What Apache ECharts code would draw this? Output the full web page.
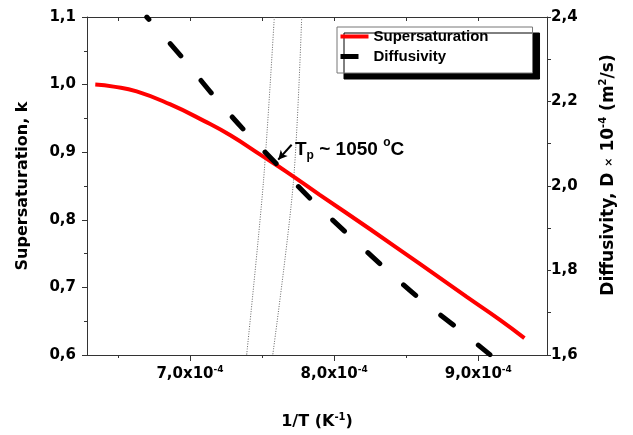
<!DOCTYPE html>
<html><head><meta charset="utf-8">
<script src="https://cdn.jsdelivr.net/npm/echarts@6/dist/echarts.min.js"></script>
<style>html,body{margin:0;padding:0;background:#fff}#c{width:633px;height:435px}</style>
</head><body><div id="c"></div>
<script>
// x values in units of 1e-4 K^-1
const superX = [6.343, 6.47, 6.63, 6.86, 7.10, 7.28, 7.49, 7.67, 7.90, 8.25, 8.60, 8.92, 9.15, 9.32];
const superY = [1.000, 0.997, 0.990, 0.971, 0.946, 0.925, 0.896, 0.871, 0.837, 0.786, 0.734, 0.686, 0.652, 0.625];
const diffX = [6.70, 6.951, 7.153, 7.373, 7.604, 7.844, 8.098, 8.341, 8.584, 8.838, 9.081];
const diffY = [2.400, 2.302, 2.218, 2.133, 2.051, 1.967, 1.885, 1.809, 1.736, 1.668, 1.601];
const guide1X = [7.585, 7.509, 7.393];
const guide1Y = [1.1, 0.855, 0.6];
const guide2X = [7.775, 7.717, 7.574];
const guide2Y = [1.1, 0.855, 0.6];
const arrowFrom = [7.705, 0.911];
const arrowTo = [7.612, 0.889];
const xMajor = [7, 8, 9];
const xMinor = [6.5, 7.5, 8.5];
const xTop = [6.5, 7, 7.5, 8, 8.5, 9];

const zip = (a, b) => a.map((v, i) => [v, b[i]]);
const AX = '#333';
const tickFont = {fontFamily: 'DejaVu Sans', fontWeight: 'bold', fontSize: 15, color: '#000'};
const comma = v => v.toFixed(1).replace('.', ',');

const chart = echarts.init(document.getElementById('c'));
chart.setOption({
  animation: false,
  backgroundColor: '#fff',
  grid: {left: 87, right: 86, top: 17, bottom: 78, containLabel: false},
  legend: {
    left: 337, top: 27, orient: 'vertical', itemGap: 5, itemWidth: 28, itemHeight: 15,
    padding: [2, 44, 9, 1],
    backgroundColor: '#fff', borderColor: '#777', borderWidth: 1,
    shadowColor: '#000', shadowBlur: 0, shadowOffsetX: 7, shadowOffsetY: 6,
    itemStyle: {opacity: 0},
    textStyle: {fontFamily: 'Liberation Sans', fontWeight: 'bold', fontSize: 15, color: '#000'},
    data: [
      {name: 'Supersaturation', lineStyle: {width: 4, type: 'solid', cap: 'butt'}},
      {name: 'Diffusivity', lineStyle: {width: 5, type: [18, 60], dashOffset: 0, cap: 'butt'}}
    ]
  },
  xAxis: [
    {type: 'value', position: 'bottom', min: 6.2855, max: 9.4766,
     name: '{a|1/T (K}{s|-1}{a|)}', nameLocation: 'middle', nameGap: 57,
     nameTextStyle: {rich: {
       a: {fontFamily: 'DejaVu Sans', fontWeight: 'bold', fontSize: 16, color: '#000', lineHeight: 20},
       s: {fontFamily: 'DejaVu Sans', fontWeight: 'bold', fontSize: 10, color: '#000', verticalAlign: 'top', lineHeight: 20}
     }},
     axisLine: {show: true, onZero: false, lineStyle: {color: AX, width: 1}},
     axisTick: {show: true, customValues: xMajor, length: 6, lineStyle: {color: AX}},
     axisLabel: {customValues: xMajor, margin: 10,
       formatter: v => '{a|' + comma(v) + 'x10}{s|-4}',
       rich: {
         a: {fontFamily: 'DejaVu Sans', fontWeight: 'bold', fontSize: 15, color: '#000', lineHeight: 18},
         s: {fontFamily: 'DejaVu Sans', fontWeight: 'bold', fontSize: 9, color: '#000', verticalAlign: 'top', lineHeight: 18}
       }},
     splitLine: {show: false}},
    {type: 'value', position: 'bottom', min: 6.2855, max: 9.4766,
     axisLine: {show: false},
     axisTick: {show: true, customValues: xMinor, length: 3, lineStyle: {color: AX}},
     axisLabel: {show: false}, splitLine: {show: false}},
    {type: 'value', position: 'top', min: 6.2855, max: 9.4766,
     axisLine: {show: true, onZero: false, lineStyle: {color: AX, width: 1}},
     axisTick: {show: true, inside: true, customValues: xTop, length: 4, lineStyle: {color: AX}},
     axisLabel: {show: false}, splitLine: {show: false}}
  ],
  yAxis: [
    {type: 'value', position: 'left', min: 0.6, max: 1.1, interval: 0.1,
     name: 'Supersaturation, k', nameLocation: 'middle', nameGap: 56, nameRotate: 90,
     nameTextStyle: {fontFamily: 'DejaVu Sans', fontWeight: 'bold', fontSize: 16, color: '#000'},
     axisLine: {show: true, onZero: false, lineStyle: {color: AX, width: 1}},
     axisTick: {show: true, length: 5, lineStyle: {color: AX}},
     minorTick: {show: true, splitNumber: 2, length: 3, lineStyle: {color: AX}},
     axisLabel: Object.assign({margin: 11, formatter: comma}, tickFont),
     splitLine: {show: false}, minorSplitLine: {show: false}},
    {type: 'value', position: 'right', min: 1.6, max: 2.4, interval: 0.2,
     name: '{a|Diffusivity, D }{x|×}{a| 10}{s|-4}{a| (m}{s|2}{a|/s)}',
     nameLocation: 'middle', nameGap: 51, nameRotate: 90,
     nameTextStyle: {padding: [0, 0, 0, 22], rich: {
       a: {fontFamily: 'DejaVu Sans', fontWeight: 'bold', fontSize: 17, color: '#000', lineHeight: 22},
       x: {fontFamily: 'DejaVu Sans', fontWeight: 'bold', fontSize: 11, color: '#000', lineHeight: 22},
       s: {fontFamily: 'DejaVu Sans', fontWeight: 'bold', fontSize: 10, color: '#000', verticalAlign: 'top', lineHeight: 22}
     }},
     axisLine: {show: true, onZero: false, lineStyle: {color: AX, width: 1}},
     axisTick: {show: true, length: 4, lineStyle: {color: AX}},
     minorTick: {show: true, splitNumber: 2, length: 4, lineStyle: {color: AX}},
     axisLabel: Object.assign({margin: 4, formatter: comma}, tickFont),
     splitLine: {show: false}, minorSplitLine: {show: false}}
  ],
  graphic: [
    {type: 'text', left: 295, top: 137, z: 100,
     style: {text: '{a|T}{s|p}{a| ~ 1050 }{o|o}{a|C}',
       rich: {
         a: {fontFamily: 'Liberation Sans', fontWeight: 'bold', fontSize: 19, fill: '#000', lineHeight: 25},
         s: {fontFamily: 'Liberation Sans', fontWeight: 'bold', fontSize: 12, fill: '#000', verticalAlign: 'bottom', lineHeight: 25},
         o: {fontFamily: 'Liberation Sans', fontWeight: 'bold', fontSize: 12, fill: '#000', verticalAlign: 'top', lineHeight: 25}
       }}}
  ],
  series: [
    {name: 'Supersaturation', type: 'line', xAxisIndex: 0, yAxisIndex: 0, data: zip(superX, superY),
     smooth: 0.5, symbol: 'none', lineStyle: {color: '#ff0000', width: 4}, itemStyle: {color: '#ff0000'}, z: 3},
    {name: 'Diffusivity', type: 'line', xAxisIndex: 0, yAxisIndex: 1, data: zip(diffX, diffY),
     smooth: 0.3, symbol: 'none', lineStyle: {color: '#000', width: 5, type: [16, 32], dashOffset: 12.5, cap: 'round'},
     itemStyle: {color: '#000'}, z: 4},
    {name: 'g1', type: 'line', xAxisIndex: 0, yAxisIndex: 0, data: zip(guide1X, guide1Y), smooth: 0.3,
     symbol: 'none', silent: true, lineStyle: {color: '#666', width: 1, type: [1, 1.5]}, z: 2},
    {name: 'g2', type: 'line', xAxisIndex: 0, yAxisIndex: 0, data: zip(guide2X, guide2Y), smooth: 0.3,
     symbol: 'none', silent: true, lineStyle: {color: '#666', width: 1, type: [1, 1.5]}, z: 2,
     markLine: {silent: true, symbol: ['none', 'arrow'], symbolSize: [7, 9], label: {show: false},
       lineStyle: {color: '#000', width: 2, type: 'solid'},
       data: [[{coord: arrowFrom}, {coord: arrowTo}]]}}
  ]
});
</script></body></html>
